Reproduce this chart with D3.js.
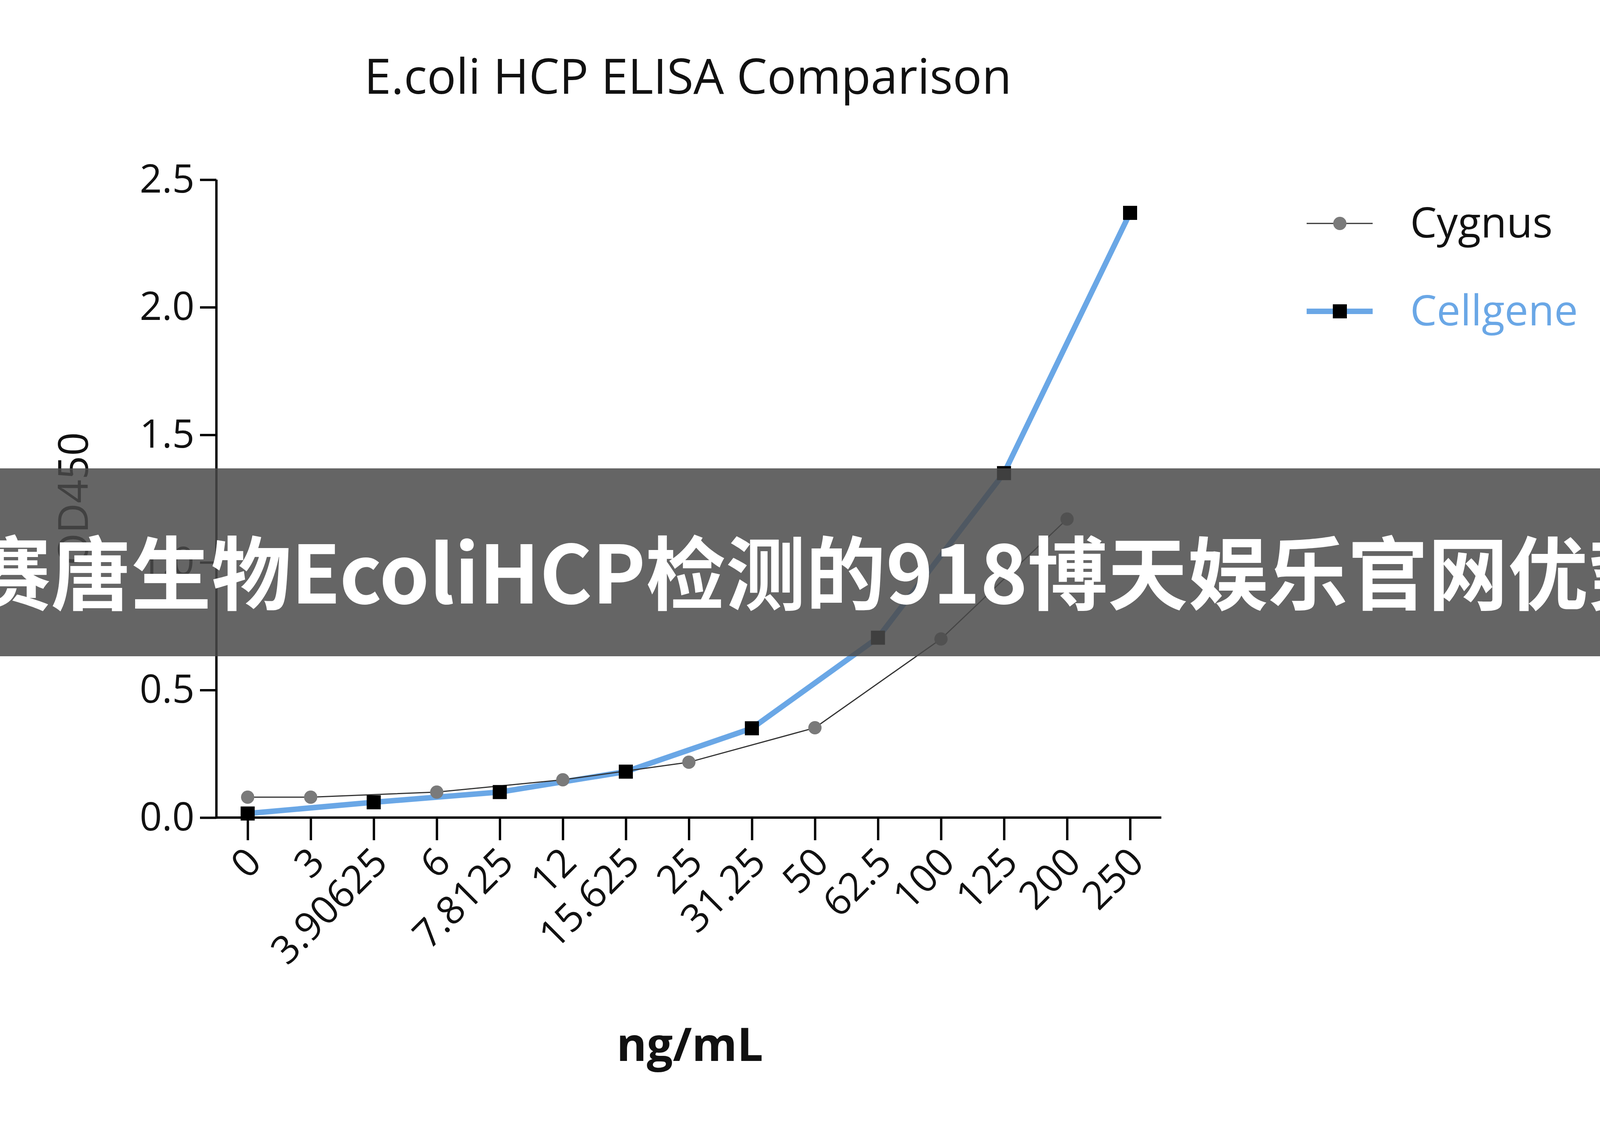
<!DOCTYPE html>
<html><head><meta charset="utf-8">
<script src="https://cdn.jsdelivr.net/npm/d3@7"></script>
<style>html,body{margin:0;background:#fff;overflow:hidden}svg{display:block}</style>
</head><body>
<div id="chart"></div>
<script>
  var categories = ['0','3','3.90625','6','7.8125','12','15.625','25','31.25','50','62.5','100','125','200','250'];
  var cygnusX = ['0','3','6','12','25','50','100','200'];
  var cygnusY = [0.08, 0.08, 0.10, 0.148, 0.217, 0.352, 0.70, 1.17];
  var cellgeneX = ['0','3.90625','7.8125','15.625','31.25','62.5','125','250'];
  var cellgeneY = [0.016, 0.06, 0.10, 0.18, 0.35, 0.705, 1.35, 2.37];
  var yTicks = [0, 0.5, 1.0, 1.5, 2.0, 2.5];

  var width = 4196, height = 2880;
  var svg = d3.select('#chart').append('svg')
    .attr('width', width).attr('height', height);

  var x = d3.scalePoint().domain(categories).range([634, 2893]);
  var y = d3.scaleLinear().domain([0, 2.5]).range([2093, 460]);
  var font = "'Open Sans', 'DejaVu Sans', sans-serif";

  // title
  svg.append('text').attr('x', 1761).attr('y', 240)
    .attr('text-anchor', 'middle').attr('font-family', font)
    .attr('font-size', 124).attr('fill', '#111')
    .text('E.coli HCP ELISA Comparison');

  // y axis
  var yAxis = svg.append('g').attr('transform', 'translate(554,0)')
    .call(d3.axisLeft(y).tickValues(yTicks).tickFormat(d3.format('.1f')).tickSize(42).tickPadding(14));
  yAxis.select('.domain').attr('stroke-width', 6).attr('d', 'M0,' + y(2.5) + 'V' + y(0));
  yAxis.selectAll('.tick line').attr('stroke-width', 6);
  yAxis.selectAll('.tick text').attr('font-family', font).attr('font-size', 100).attr('fill', '#111');

  // x axis
  var xAxis = svg.append('g').attr('transform', 'translate(0,' + y(0) + ')')
    .call(d3.axisBottom(x).tickSize(58).tickSizeOuter(0));
  xAxis.select('.domain').attr('stroke-width', 6).attr('d', 'M554,0H2973');
  xAxis.selectAll('.tick line').attr('stroke-width', 6);
  xAxis.selectAll('.tick text').attr('font-family', font).attr('font-size', 100).attr('fill', '#111')
    .attr('text-anchor', 'end').attr('dy', 0).attr('y', 0)
    .attr('transform', 'translate(40,120) rotate(-45)');

  // axis titles
  svg.append('text').attr('transform', 'translate(225,1277) rotate(-90)')
    .attr('text-anchor', 'middle').attr('font-family', font).attr('font-size', 106)
    .attr('fill', '#111').text('OD450');
  svg.append('text').attr('x', 1766).attr('y', 2716).attr('text-anchor', 'middle')
    .attr('font-family', font).attr('font-weight', 'bold').attr('font-size', 118)
    .attr('fill', '#111').text('ng/mL');

  var line = d3.line().x(function (d) { return x(d[0]); }).y(function (d) { return y(d[1]); });
  var cyg = d3.zip(cygnusX, cygnusY), cel = d3.zip(cellgeneX, cellgeneY);

  svg.append('path').datum(cel).attr('d', line).attr('fill', 'none')
    .attr('stroke', '#6aa7e6').attr('stroke-width', 14);
  svg.append('path').datum(cyg).attr('d', line).attr('fill', 'none')
    .attr('stroke', '#333').attr('stroke-width', 3);
  svg.selectAll('.cdot').data(cyg).enter().append('circle')
    .attr('cx', function (d) { return x(d[0]); }).attr('cy', function (d) { return y(d[1]); })
    .attr('r', 17).attr('fill', '#7a7a7a');
  svg.selectAll('.sq').data(cel).enter().append('rect')
    .attr('x', function (d) { return x(d[0]) - 18; }).attr('y', function (d) { return y(d[1]) - 18; })
    .attr('width', 36).attr('height', 36).attr('fill', '#000');

  // legend
  svg.append('line').attr('x1', 3345).attr('x2', 3514).attr('y1', 572).attr('y2', 572)
    .attr('stroke', '#333').attr('stroke-width', 3);
  svg.append('circle').attr('cx', 3430).attr('cy', 572).attr('r', 17).attr('fill', '#7a7a7a');
  svg.append('text').attr('x', 3610).attr('y', 608).attr('font-family', font)
    .attr('font-size', 108).attr('fill', '#111').text('Cygnus');
  svg.append('line').attr('x1', 3345).attr('x2', 3514).attr('y1', 797).attr('y2', 797)
    .attr('stroke', '#6aa7e6').attr('stroke-width', 14);
  svg.append('rect').attr('x', 3412).attr('y', 779).attr('width', 36).attr('height', 36).attr('fill', '#000');
  svg.append('text').attr('x', 3610).attr('y', 833).attr('font-family', font)
    .attr('font-size', 108).attr('fill', '#6aa7e6').text('Cellgene');

  // banner overlay
  svg.append('rect').attr('x', 0).attr('y', 1199).attr('width', width).attr('height', 481)
    .attr('fill', '#4a4a4a').attr('opacity', 0.85);
  svg.append('text').attr('x', 2098).attr('y', 1545).attr('text-anchor', 'middle')
    .attr('font-family', "'Noto Sans CJK SC', sans-serif").attr('font-weight', 'bold')
    .attr('font-size', 205).attr('fill', '#fff')
    .text('赛唐生物EcoliHCP检测的918博天娱乐官网优势');
</script>
</body></html>
